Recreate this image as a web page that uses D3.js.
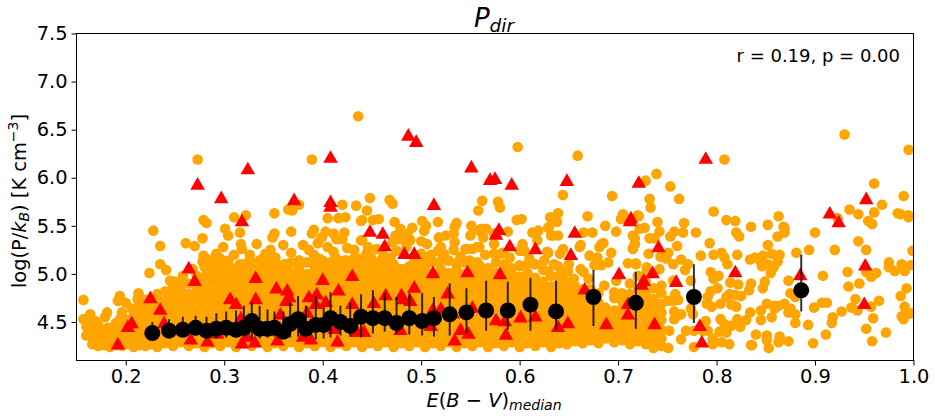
<!DOCTYPE html>
<html><head><meta charset="utf-8">
<script src="https://cdn.jsdelivr.net/npm/d3@7"></script>
<style>html,body{margin:0;padding:0;background:#fff}svg{display:block}text{font-family:"DejaVu Sans";fill:#000}</style>
</head><body><div id="c"></div>
<script>
const xTicks=[0.2,0.3,0.4,0.5,0.6,0.7,0.8,0.9,1.0];
const yTicks=[4.5,5.0,5.5,6.0,6.5,7.0,7.5];
// sparse outer galaxies [E(B-V), logP]
const orangeLeft=[[.157,4.73],[.157,4.53],[.164,4.58],[.169,4.51],[.161,4.48],[.181,4.60],[.179,4.55],[.182,4.44],[.194,4.77],[.192,4.72],[.200,4.70],[.206,4.64],[.213,4.80],[.212,4.74],[.194,4.53],[.228,5.45],[.235,5.29],[.224,5.01],[.235,5.10],[.241,5.04],[.245,4.93],[.261,5.32],[.270,5.29],[.278,5.37],[.279,5.56],[.282,5.53],[.273,6.19],[.310,5.59],[.322,5.61],[.301,5.47],[.304,5.40],[.316,5.43],[.299,5.28],[.292,5.21],[.279,5.19],[.278,5.13],[.317,5.31],[.318,5.26],[.326,5.20],[.316,5.10],[.333,5.31],[.342,5.21],[.347,5.25],[.351,5.63],[.351,5.42],[.349,5.38],[.368,5.44],[.368,5.22],[.389,5.42],[.391,5.46],[.403,5.44],[.411,5.42],[.422,5.43],[.420,5.36],[.414,5.36],[.395,5.32],[.399,5.38],[.405,5.58],[.416,5.58],[.423,5.59],[.420,5.72],[.434,5.71],[.389,6.19],[.436,6.64],[.365,5.67],[.369,5.66],[.376,5.72],[.439,5.55],[.439,5.35],[.386,5.25],[.391,5.20],[.396,5.16],[.411,5.23],[.413,5.17],[.422,5.14],[.435,5.16],[.376,5.14],[.361,5.10]];
const orangeMid=[[.598,6.32],[.659,6.23],[.448,5.79],[.468,5.77],[.471,5.73],[.445,5.66],[.457,5.57],[.440,5.56],[.451,5.56],[.473,5.54],[.479,5.47],[.440,5.35],[.474,5.40],[.489,5.35],[.491,5.48],[.505,5.50],[.501,5.55],[.503,5.45],[.517,5.54],[.536,5.53],[.534,5.49],[.500,5.34],[.506,5.31],[.518,5.38],[.525,5.40],[.533,5.42],[.534,5.33],[.551,5.50],[.550,5.40],[.562,5.76],[.558,5.66],[.578,5.75],[.580,5.69],[.597,5.56],[.602,5.57],[.559,5.45],[.566,5.47],[.574,5.42],[.588,5.44],[.546,5.26],[.557,5.28],[.574,5.31],[.574,5.21],[.583,5.22],[.603,5.31],[.605,5.24],[.613,5.43],[.619,5.45],[.618,5.35],[.629,5.22],[.631,5.59],[.638,5.54],[.639,5.63],[.629,5.48],[.632,5.40],[.639,5.40],[.644,5.82],[.669,5.60],[.665,5.43],[.674,5.43],[.687,5.50],[.698,5.44],[.694,5.81],[.705,5.62],[.703,5.57],[.720,5.61],[.715,5.40],[.717,5.31],[.715,5.27],[.685,5.32],[.681,5.28],[.662,5.30],[.661,5.28],[.644,5.26],[.641,5.21],[.671,5.19],[.679,5.17],[.693,5.22],[.662,5.05],[.639,5.08],[.649,5.03],[.629,5.03],[.710,5.11],[.718,5.11],[.698,4.93],[.686,4.88],[.696,4.81],[.687,4.65]];
const orangeRight=[[.930,6.45],[.995,6.29],[.808,6.19],[.739,6.04],[.728,5.97],[.753,5.91],[.960,5.94],[.732,5.78],[.762,5.78],[.990,5.81],[.733,5.69],[.797,5.65],[.935,5.67],[.944,5.62],[.960,5.64],[.968,5.72],[.984,5.63],[.987,5.62],[.995,5.61],[.995,5.59],[.721,5.60],[.810,5.56],[.819,5.55],[.863,5.60],[.740,5.54],[.767,5.53],[.852,5.51],[.835,5.49],[.954,5.55],[.958,5.52],[.923,5.58],[.869,5.48],[.868,5.49],[.869,5.43],[.727,5.48],[.722,5.47],[.742,5.44],[.757,5.44],[.766,5.43],[.779,5.43],[.753,5.39],[.820,5.43],[.823,5.39],[.862,5.39],[.900,5.43],[.944,5.34],[.732,5.37],[.737,5.37],[.717,5.37],[.793,5.32],[.760,5.29],[.852,5.30],[.717,5.31],[.715,5.26],[.894,5.25],[.920,5.25],[.952,5.25],[.999,5.24],[.731,5.21],[.751,5.22],[.743,5.18],[.784,5.19],[.797,5.20],[.805,5.22],[.808,5.17],[.821,5.20],[.881,5.22],[.834,5.15],[.839,5.17],[.847,5.19],[.856,5.21],[.864,5.20],[.862,5.13],[.844,5.14],[.846,5.08],[.852,5.10],[.858,5.07],[.855,5.01],[.811,5.10],[.764,5.15],[.771,5.10],[.756,5.10],[.749,5.16],[.718,5.10],[.729,5.07],[.742,5.05],[.768,5.04],[.975,5.12],[.975,5.07],[.981,5.03],[.988,5.10],[.991,5.03],[.997,5.09],[.962,5.01],[.957,4.97],[.952,5.02],[.933,5.02],[.908,4.98],[.794,5.02],[.802,4.98],[.797,4.95],[.873,4.93],[.814,4.91],[.822,4.89],[.835,4.90],[.833,4.83],[.849,4.92],[.847,4.85],[.934,4.87],[.945,4.90],[.993,4.85],[.801,4.85],[.794,4.82],[.987,4.77],[.791,4.76],[.813,4.79],[.819,4.78],[.810,4.76],[.825,4.77],[.774,4.93],[.756,4.93],[.744,4.88],[.875,4.80],[.880,4.76],[.941,4.74],[.965,4.72],[.907,4.70],[.912,4.70],[.899,4.65],[.927,4.61],[.937,4.65],[.943,4.62],[.957,4.66],[.991,4.66],[.851,4.69],[.859,4.67],[.863,4.67],[.869,4.69],[.859,4.64],[.875,4.64],[.873,4.60],[.880,4.58],[.804,4.69],[.795,4.66],[.790,4.69],[.815,4.68],[.820,4.66],[.834,4.60],[.845,4.62],[.845,4.52],[.856,4.55],[.830,4.52],[.821,4.53],[.804,4.53],[.808,4.48],[.824,4.45],[.815,4.46],[.803,4.40],[.810,4.39],[.789,4.51],[.880,4.49],[.893,4.47],[.918,4.55],[.917,4.49],[.988,4.56],[.990,4.53],[.997,4.59],[.959,4.54],[.952,4.43],[.972,4.39],[.911,4.37],[.840,4.37],[.851,4.36],[.864,4.35],[.851,4.31],[.873,4.30],[.863,4.29],[.853,4.23],[.835,4.26],[.836,4.26],[.813,4.27],[.805,4.29],[.796,4.33],[.796,4.27],[.898,4.28],[.958,4.30],[.777,4.24],[.751,4.23],[.736,4.23],[.741,4.29],[.764,4.32],[.769,4.41],[.757,4.53],[.752,4.41],[.764,4.58],[.757,4.61],[.751,4.72],[.756,4.72],[.761,4.73],[.758,4.79],[.776,4.58],[.774,4.64],[.777,4.41],[.786,4.41],[.791,4.41]];
const orangeUpper=[[.290,5.10],[.305,5.03],[.296,5.16],[.337,5.12],[.339,5.16],[.364,5.10],[.449,5.17],[.459,5.14],[.462,5.19],[.469,5.17],[.446,5.28],[.471,5.33],[.476,5.36],[.486,5.42],[.488,5.36],[.481,5.36],[.563,5.38],[.561,5.47],[.520,5.28],[.523,5.21],[.517,5.24],[.545,5.26],[.559,5.28],[.552,5.26],[.581,5.21],[.600,5.24],[.628,5.23],[.634,5.40],[.630,5.49],[.683,5.31],[.690,5.12],[.683,5.09],[.676,5.09],[.625,5.14],[.615,5.10],[.600,5.09],[.557,5.12],[.549,5.14],[.537,5.12],[.527,5.14],[.506,5.14],[.500,5.21],[.493,5.14],[.533,5.25],[.510,5.20],[.540,5.18],[.565,5.20],[.590,5.17],[.610,5.16],[.650,5.10],[.665,5.02],[.670,4.95],[.655,4.95],[.645,5.02],[.635,5.10],[.475,5.24],[.485,5.28],[.455,5.26],[.445,5.22],[.432,5.25],[.425,5.27],[.405,5.28],[.380,5.30],[.360,5.30],[.352,5.17],[.325,5.13],[.310,5.20],[.285,5.15],[.268,5.05],[.258,4.98],[.250,4.92]];
// dense band: one column of galaxies per E(B-V) value
const bandX=[.160,.166,.172,.178,.184,.190,.196,.202,.208,.214,.220,.226,.232,.240,.248,.256,.264,.272,.280,.288,.296,.304,.312,.320,.328,.336,.344,.352,.360,.368,.376,.384,.392,.400,.408,.416,.424,.432,.440,.448,.456,.464,.472,.480,.488,.496,.504,.512,.520,.528,.536,.544,.552,.560,.568,.576,.584,.592,.600,.608,.616,.624,.632,.640,.648,.656,.664,.672,.680,.688,.696,.704,.712,.720,.728,.736,.744];
const bandY=[
[4.36,4.45],[4.27,4.34,4.42],[4.25,4.31,4.39,4.47],[4.26,4.33,4.41],[4.24,4.30,4.37],[4.26,4.33,4.40,4.49],[4.25,4.34,4.42,4.46,4.60],[4.27,4.35,4.44,4.52],[4.24,4.31,4.39,4.47,4.56],[4.26,4.34,4.42,4.51,4.60,4.68],[4.25,4.33,4.41,4.49,4.57,4.65,4.73],[4.27,4.36,4.44,4.52,4.61,4.70],
[4.24,4.32,4.40,4.48,4.56,4.64,4.72,4.79],[4.28,4.37,4.45,4.54,4.63,4.72,4.82],[4.25,4.34,4.43,4.52,4.61,4.70,4.78,4.86],[4.29,4.38,4.47,4.56,4.65,4.74,4.83,4.88],[4.25,4.33,4.43,4.52,4.60,4.70,4.79,4.90],[4.28,4.38,4.46,4.56,4.64,4.74,4.83,4.91,4.98],[4.24,4.34,4.42,4.52,4.61,4.69,4.79,4.88,4.97,5.07],[4.28,4.38,4.47,4.55,4.65,4.74,4.82,4.92,5.01,5.12],[4.25,4.33,4.43,4.52,4.60,4.70,4.78,4.88,4.97,5.06,5.15],[4.29,4.37,4.47,4.56,4.64,4.74,4.83,4.92,5.00,5.09,5.14],[4.24,4.34,4.43,4.51,4.61,4.70,4.79,4.87,4.96,5.06],[4.28,4.38,4.46,4.56,4.65,4.73,4.83,4.92,5.01,5.10],[4.25,4.33,4.43,4.52,4.60,4.70,4.79,4.88,4.97,5.06,5.12],[4.29,4.37,4.47,4.56,4.65,4.73,4.83,4.92,5.00,5.09,5.14],[4.24,4.34,4.42,4.52,4.61,4.70,4.78,4.88,4.97,5.05,5.14],[4.28,4.38,4.47,4.55,4.65,4.74,4.83,4.91,5.01,5.10],[4.25,4.33,4.43,4.52,4.60,4.70,4.79,4.88,4.96,5.06],[4.29,4.37,4.47,4.56,4.64,4.74,4.83,4.92,5.01,5.12],[4.24,4.34,4.43,4.51,4.61,4.70,4.78,4.88,4.97,5.06,5.14],[4.28,4.38,4.46,4.56,4.65,4.73,4.83,4.92,5.00,5.12],[4.25,4.33,4.43,4.52,4.60,4.70,4.79,4.87,4.97,5.06,5.12],[4.29,4.37,4.47,4.55,4.65,4.74,4.82,4.92,5.01,5.10,5.14],[4.24,4.34,4.42,4.52,4.61,4.69,4.79,4.88,4.96,5.06,5.12],[4.28,4.38,4.47,4.56,4.64,4.74,4.83,4.91,5.01,5.09,5.14],[4.25,4.33,4.43,4.51,4.60,4.70,4.78,4.88,4.97,5.05,5.14],[4.29,4.37,4.46,4.56,4.65,4.73,4.83,4.92,5.00,5.10,5.16],[4.24,4.34,4.43,4.52,4.61,4.70,4.79,4.87,4.97,5.06,5.16],[4.28,4.38,4.47,4.55,4.64,4.74,4.82,4.92,5.01,5.09,5.16],[4.25,4.33,4.42,4.52,4.60,4.69,4.79,4.88,4.96,5.05,5.10],[4.29,4.37,4.47,4.56,4.65,4.74,4.83,4.91,5.00,5.09,5.15],[4.24,4.34,4.43,4.51,4.61,4.70,4.78,4.88,4.97,5.04,5.10],[4.28,4.38,4.46,4.56,4.64,4.73,4.83,4.92,5.00,5.05],[4.25,4.33,4.43,4.52,4.60,4.70,4.79,4.87,4.96,5.02,5.08],[4.29,4.37,4.47,4.55,4.65,4.74,4.82,4.92,5.01,5.09,5.14],[4.24,4.34,4.42,4.52,4.61,4.69,4.79,4.88,4.97,5.06,5.14],[4.28,4.38,4.47,4.56,4.64,4.74,4.83,4.91,5.00,5.12],[4.25,4.33,4.43,4.51,4.60,4.70,4.78,4.88,4.96,5.05,5.14],[4.29,4.37,4.46,4.56,4.65,4.73,4.83,4.92,5.01,5.14],[4.24,4.34,4.43,4.52,4.61,4.70,4.79,4.87,4.97,5.05,5.10],[4.28,4.38,4.47,4.55,4.64,4.74,4.82,4.92,5.00,5.12],[4.25,4.33,4.42,4.52,4.60,4.69,4.79,4.88,4.96,5.05,5.12],[4.29,4.37,4.47,4.56,4.65,4.74,4.83,4.91,5.00,5.08],[4.24,4.34,4.43,4.51,4.61,4.70,4.78,4.88,4.97,5.06],[4.28,4.38,4.46,4.56,4.64,4.73,4.83,4.92,5.01,5.12],[4.25,4.33,4.43,4.52,4.60,4.70,4.79,4.87,4.96,5.03,5.10],[4.29,4.37,4.47,4.55,4.65,4.74,4.82,4.92,5.00,5.06],[4.24,4.34,4.42,4.52,4.61,4.69,4.79,4.88,4.97,5.08],[4.28,4.38,4.47,4.56,4.64,4.74,4.83,4.91,5.01,5.10],[4.25,4.33,4.43,4.51,4.60,4.70,4.78,4.88,4.96,5.10],[4.29,4.37,4.46,4.56,4.65,4.73,4.83,4.92,5.04],[4.24,4.34,4.43,4.52,4.61,4.70,4.79,4.87,4.98],[4.28,4.38,4.47,4.55,4.64,4.74,4.82,4.91,4.98],[4.27,4.33,4.42,4.52,4.60,4.69,4.79,4.86,4.92],[4.30,4.37,4.47,4.56,4.65,4.74,4.80,4.88],[4.28,4.34,4.43,4.51,4.61,4.70,4.78,4.84],[4.31,4.38,4.46,4.56,4.64,4.73,4.84],[4.28,4.33,4.43,4.52,4.60,4.70,4.80],[4.33,4.37,4.47,4.55,4.57],[4.29,4.34,4.42,4.52,4.62,4.75],[4.31,4.38,4.47,4.56,4.64,4.72,4.80],[4.27,4.33,4.43,4.51,4.60,4.70,4.79,4.90],[4.30,4.37,4.46,4.56,4.65,4.74,4.83,4.98],[4.27,4.34,4.43,4.52,4.61,4.70,4.80,4.92,5.00],[4.30,4.38,4.47,4.55,4.64,4.74,4.85],[4.25,4.33,4.42,4.52,4.60,4.69,4.80]];
const triX=[.408,.324,.273,.297,.371,.408,.408,.318,.264,.270,.332,.400,.430,.225,.235,.306,.312,.332,.353,.364,.366,.363,.386,.394,.393,.403,.416,.430,.357,.384,.206,.202,.239,.317,.192,.266,.283,.318,.331,.323,.354,.380,.388,.415,.412,.435,.293,.487,.495,.551,.570,.575,.592,.648,.721,.513,.713,.712,.448,.461,.463,.483,.493,.579,.576,.590,.616,.656,.652,.512,.547,.580,.493,.464,.480,.482,.489,.452,.527,.701,.666,.710,.710,.724,.552,.520,.512,.532,.442,.479,.510,.540,.548,.534,.576,.585,.601,.616,.586,.639,.649,.688,.789,.952,.915,.924,.741,.951,.885,.819,.735,.726,.759,.950,.737,.783,.785];
const triY=[6.22,6.10,5.94,5.80,5.78,5.76,5.71,5.56,5.07,4.94,4.97,4.95,4.99,4.76,4.64,4.75,4.70,4.75,4.86,4.84,4.77,4.73,4.77,4.80,4.70,4.72,4.84,4.70,4.59,4.61,4.50,4.46,4.50,4.55,4.28,4.33,4.31,4.29,4.30,4.36,4.32,4.36,4.33,4.31,4.44,4.41,4.39,6.45,6.385,6.12,5.99,6.00,5.94,5.98,5.96,5.73,5.59,5.56,5.45,5.43,5.30,5.22,5.22,5.47,5.42,5.30,5.27,5.44,5.21,5.02,5.03,5.01,4.87,4.79,4.79,4.75,4.73,4.71,4.81,5.01,4.85,4.70,4.59,4.90,4.66,4.65,4.64,4.60,4.41,4.43,4.47,4.43,4.39,4.32,4.53,4.52,4.56,4.57,4.38,4.46,4.50,4.49,6.21,5.79,5.64,5.55,5.29,5.10,5.00,5.03,5.02,4.94,4.93,4.70,4.49,4.47,4.30];
const medX=[.227,.244,.258,.271,.282,.292,.302,.312,.320,.328,.336,.344,.351,.360,.367,.375,.383,.393,.401,.408,.418,.428,.439,.451,.463,.475,.488,.501,.513,.529,.546,.566,.588,.611,.637,.675,.718,.777,.886];
const medY=[4.385,4.41,4.42,4.44,4.41,4.43,4.44,4.42,4.44,4.51,4.43,4.43,4.44,4.40,4.48,4.53,4.43,4.47,4.47,4.54,4.50,4.46,4.555,4.54,4.54,4.49,4.54,4.51,4.54,4.58,4.60,4.62,4.62,4.68,4.61,4.76,4.70,4.76,4.83];
const medHi=[4.50,4.53,4.555,4.565,4.555,4.59,4.61,4.62,4.67,4.70,4.67,4.63,4.61,4.61,4.70,4.77,4.67,4.77,4.66,4.81,4.67,4.70,4.79,4.83,4.805,4.76,4.80,4.80,4.76,4.90,4.85,4.93,4.92,4.96,4.93,5.04,5.02,5.10,5.20];
const medLo=[4.33,4.34,4.35,4.36,4.33,4.33,4.34,4.35,4.35,4.32,4.33,4.34,4.35,4.33,4.34,4.35,4.34,4.32,4.33,4.34,4.36,4.35,4.34,4.38,4.40,4.38,4.37,4.36,4.35,4.36,4.38,4.41,4.42,4.41,4.42,4.46,4.43,4.49,4.61];

const W=935,H=419,L=76.5,R=913.5,T=33.5,B=360.5;
const x=d3.scaleLinear().domain([0.15,1.0]).range([L,R]);
const y=d3.scaleLinear().domain([4.1,7.5]).range([B,T]);
const svg=d3.select('#c').append('svg').attr('width',W).attr('height',H);
svg.append('defs').append('clipPath').attr('id','clip').append('rect').attr('x',L).attr('y',T).attr('width',R-L).attr('height',B-T);
const plot=svg.append('g').attr('clip-path','url(#clip)');
const band=bandX.flatMap((v,i)=>bandY[i].map(w=>[v,w]));
const orange=[...orangeLeft,...orangeMid,...orangeRight,...orangeUpper,...band];
plot.append('g').selectAll('circle').data(orange).join('circle').attr('cx',d=>x(d[0])).attr('cy',d=>y(d[1])).attr('r',5.3).attr('fill','#ffa500');
const tri=d3.symbol().type(d3.symbolTriangle).size(92);
plot.append('g').selectAll('path').data(triX).join('path').attr('d',tri).attr('transform',(d,i)=>`translate(${x(d)},${y(triY[i])+2})`).attr('fill','#ff0000');
plot.append('g').selectAll('line').data(medX).join('line').attr('x1',d=>x(d)).attr('x2',d=>x(d)).attr('y1',(d,i)=>y(medHi[i])).attr('y2',(d,i)=>y(medLo[i])).attr('stroke','#000').attr('stroke-opacity',.8).attr('stroke-width',2);
plot.append('g').selectAll('circle').data(medX).join('circle').attr('cx',d=>x(d)).attr('cy',(d,i)=>y(medY[i])).attr('r',8).attr('fill','#000');

const ax=svg.append('g').attr('transform',`translate(0,${B})`).call(d3.axisBottom(x).tickValues(xTicks).tickFormat(d3.format('.1f')).tickSize(5).tickPadding(4));
const ay=svg.append('g').attr('transform',`translate(${L},0)`).call(d3.axisLeft(y).tickValues(yTicks).tickFormat(d3.format('.1f')).tickSize(5).tickPadding(4));
[ax,ay].forEach(a=>{a.selectAll('text').attr('font-size',19.4).attr('font-family','DejaVu Sans').attr('fill','#000');a.select('.domain').remove();a.selectAll('line').attr('stroke','#000').attr('stroke-width',1);});
svg.append('rect').attr('x',L).attr('y',T).attr('width',R-L).attr('height',B-T).attr('fill','none').attr('stroke','#000').attr('stroke-width',1);

const t=svg.append('text').attr('x',494).attr('y',27).attr('text-anchor','middle').attr('font-size',26).attr('font-style','italic').text('P');
t.append('tspan').attr('dy',5).attr('font-size',18.5).text('dir');
svg.append('text').attr('x',900).attr('y',62).attr('text-anchor','end').attr('font-size',18).text('r = 0.19, p = 0.00');
const xl=svg.append('text').attr('x',494).attr('y',407).attr('text-anchor','middle').attr('font-size',19.4);
xl.append('tspan').attr('font-style','italic').text('E');
xl.append('tspan').text('(');
xl.append('tspan').attr('font-style','italic').text('B');
xl.append('tspan').text(' − ');
xl.append('tspan').attr('font-style','italic').text('V');
xl.append('tspan').text(')');
xl.append('tspan').attr('font-style','italic').attr('font-size',14).attr('dy',3).text('median');
const yl=svg.append('text').attr('transform','translate(26,201) rotate(-90)').attr('text-anchor','middle').attr('font-size',19.4);
yl.append('tspan').text('log(P/');
yl.append('tspan').attr('font-style','italic').text('k');
yl.append('tspan').attr('font-style','italic').attr('font-size',14).attr('dy',3).text('B');
yl.append('tspan').attr('dy',-3).text(') [K cm');
yl.append('tspan').attr('font-size',14).attr('dy',-8).text('−3');
yl.append('tspan').attr('dy',8).text(']');
</script></body></html>
